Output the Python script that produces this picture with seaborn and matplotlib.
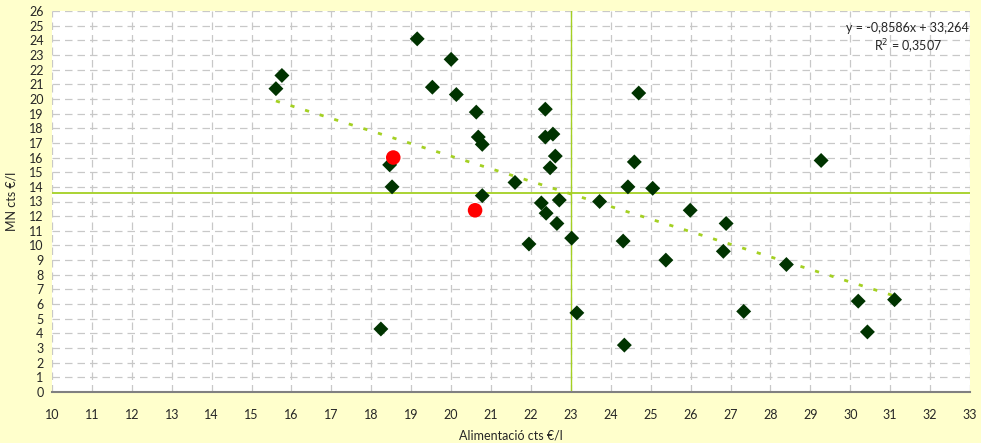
import matplotlib.pyplot as plt
import pandas as pd
import seaborn as sns

# data
alim = [15.61, 15.76, 19.15, 20.00, 19.53, 20.13, 20.63, 20.68, 20.78, 18.46,
        18.52, 21.60, 20.78, 22.36, 22.36, 22.55, 22.61, 22.48, 22.26, 22.71,
        22.38, 22.65, 24.70, 24.59, 24.43, 25.05, 23.72, 29.27, 25.99, 26.89,
        21.95, 23.02, 24.31, 23.15, 18.24, 24.34, 25.38, 26.82, 28.40, 27.33,
        30.20, 31.11, 30.43]
mn = [20.7, 21.6, 24.1, 22.7, 20.8, 20.3, 19.1, 17.4, 16.9, 15.5,
      14.0, 14.3, 13.4, 19.3, 17.4, 17.6, 16.1, 15.3, 12.9, 13.1,
      12.2, 11.5, 20.4, 15.7, 14.0, 13.9, 13.0, 15.8, 12.4, 11.5,
      10.1, 10.5, 10.3, 5.4, 4.3, 3.2, 9.0, 9.6, 8.7, 5.5,
      6.2, 6.3, 4.1]
alim_hl = [18.55, 20.60]
mn_hl = [16.0, 12.4]
slope, intercept, r2 = -0.8586, 33.264, 0.3507
mean_x, mean_y = 23.0, 13.6

df = pd.DataFrame({'x': alim, 'y': mn})
hl = pd.DataFrame({'x': alim_hl, 'y': mn_hl})
trend = pd.DataFrame({'x': [min(alim), max(alim)]})
trend['y'] = slope * trend['x'] + intercept

sns.set_style('white')
plt.rcParams['font.family'] = ['Lato', 'DejaVu Sans']

fig = plt.figure(figsize=(9.81, 4.43), dpi=100, facecolor='#FFFFCC')
ax = fig.add_axes([52 / 981, 51 / 443, 918 / 981, 381 / 443])
ax.set_facecolor('white')

green = '#A4D023'
ax.axhline(mean_y, color=green, lw=1.3, zorder=2)
ax.axvline(mean_x, color=green, lw=1.0, zorder=2)
sns.lineplot(data=trend, x='x', y='y', ax=ax, color=green, lw=2,
             linestyle=(0, (1.5, 4)), zorder=3)
sns.scatterplot(data=df, x='x', y='y', ax=ax, marker='D', s=58,
                color='#003300', edgecolor='none', zorder=4)
sns.scatterplot(data=hl, x='x', y='y', ax=ax, marker='o', s=110,
                color='#FF0000', edgecolor='none', zorder=5)

ax.set_xlim(10, 33)
ax.set_ylim(0, 26)
ax.set_xticks(range(10, 34))
ax.set_yticks(range(0, 27))
ax.grid(True, color='#C8C8C8', lw=0.9, linestyle=(0, (6, 4)))
ax.set_axisbelow(True)
for s in ['top', 'right', 'left']:
    ax.spines[s].set_visible(False)
ax.spines['bottom'].set_color('#808080')
ax.spines['bottom'].set_linewidth(1.5)
ax.tick_params(axis='x', direction='out', length=4, color='#808080',
               labelsize=9, pad=8)
ax.tick_params(axis='y', length=0, labelsize=9, pad=6)
ax.set_xlabel('Alimentació cts €/l', fontsize=9, labelpad=6)
ax.set_ylabel('MN cts €/l', fontsize=9, labelpad=8)

ax.text(0.9985, 0.955, 'y = -0,8586x + 33,264', transform=ax.transAxes,
        ha='right', va='center', fontsize=9)
ax.text(0.97, 0.905, 'R$^2$ = 0,3507', transform=ax.transAxes,
        ha='right', va='center', fontsize=9)

fig.savefig('out.png', dpi=100, facecolor=fig.get_facecolor())
